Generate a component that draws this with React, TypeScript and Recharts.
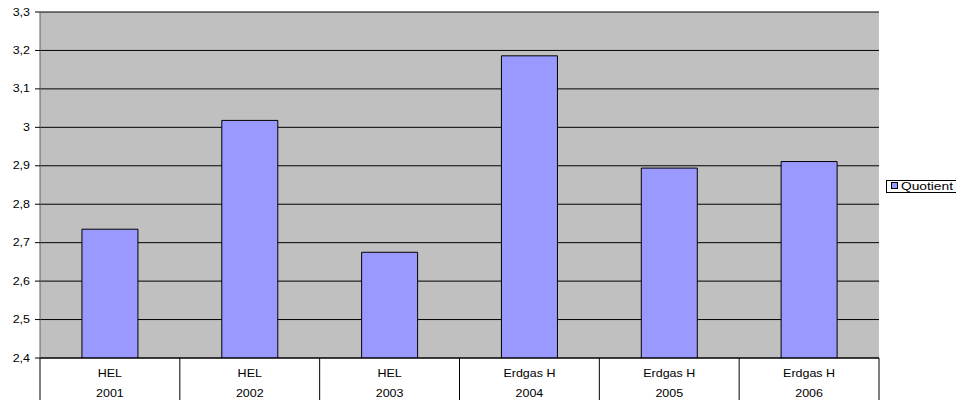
import React from "react";
import { BarChart, Bar, XAxis, YAxis, CartesianGrid, Legend } from "recharts";

const fuels = ["HEL", "HEL", "HEL", "Erdgas H", "Erdgas H", "Erdgas H"];
const years = ["2001", "2002", "2003", "2004", "2005", "2006"];
const quotient = [2.735, 3.018, 2.675, 3.186, 2.894, 2.911];
const yTicks = [2.4, 2.5, 2.6, 2.7, 2.8, 2.9, 3.0, 3.1, 3.2, 3.3];

const data = years.map((y, i) => ({ key: i, fuel: fuels[i], year: y, Quotient: quotient[i] }));

const FONT = "'Liberation Sans', Arial, sans-serif";
const SX = 1.25;

const fmtY = (v: number) => {
  const r = Math.round(v * 10) / 10;
  return (Number.isInteger(r) ? String(r) : r.toFixed(1)).replace(".", ",");
};

const StretchText = ({ x, y, anchor, children }: any) => (
  <text
    transform={`translate(${x},${y}) scale(${SX},1)`}
    x={0}
    y={0}
    textAnchor={anchor}
    fontFamily={FONT}
    fontSize={10}
    fill="#000"
  >
    {children}
  </text>
);

const CatTick = (props: any) => {
  const { x, y, payload } = props;
  const i = payload.value as number;
  const half = payload.offset || 70;
  return (
    <g>
      {i === 0 && <line x1={x - half} y1={y} x2={x - half} y2={y + 42} stroke="#000" strokeWidth={1} />}
      <line x1={x + half} y1={y} x2={x + half} y2={y + 42} stroke="#000" strokeWidth={1} />
      <StretchText x={x} y={y + 19} anchor="middle">
        {data[i].fuel}
      </StretchText>
      <StretchText x={x} y={y + 39} anchor="middle">
        {data[i].year}
      </StretchText>
    </g>
  );
};

const ValTick = (props: any) => {
  const { x, y, payload } = props;
  return (
    <StretchText x={x} y={y + 3.5} anchor="end">
      {fmtY(payload.value)}
    </StretchText>
  );
};

const LegendBox = () => (
  <div
    style={{
      border: "1px solid #000",
      background: "#fff",
      height: 11,
      width: 80,
      position: "relative",
      fontFamily: FONT,
      fontSize: 11,
      color: "#000",
    }}
  >
    <span
      style={{
        position: "absolute",
        left: 4,
        top: 1,
        width: 5,
        height: 5,
        background: "#9999FF",
        border: "1px solid #000",
      }}
    />
    <span
      style={{
        position: "absolute",
        left: 14,
        top: -2,
        lineHeight: "14px",
        whiteSpace: "nowrap",
        transform: `scaleX(${SX})`,
        transformOrigin: "left center",
      }}
    >
      Quotient
    </span>
  </div>
);

export default function App() {
  return (
    <div style={{ position: "absolute", left: 0, top: 0, width: 956, height: 400, background: "#fff", overflow: "hidden" }}>
      <BarChart
        width={956}
        height={400}
        data={data}
        margin={{ top: 12, right: 77, left: 0, bottom: 0 }}
        barCategoryGap="30%"
      >
        <CartesianGrid vertical={false} stroke="#000" fill="#C0C0C0" fillOpacity={1} />
        <XAxis
          dataKey="key"
          type="category"
          height={42}
          tickSize={0}
          tickMargin={0}
          tickLine={false}
          axisLine={{ stroke: "#000" }}
          tick={<CatTick />}
          interval={0}
        />
        <XAxis xAxisId="top" orientation="top" dataKey="key" height={0} tick={false} tickLine={false} axisLine={{ stroke: "#808080" }} />
        <YAxis
          type="number"
          domain={[2.4, 3.3]}
          ticks={yTicks}
          interval={0}
          width={40}
          tickSize={5}
          tickMargin={5}
          tick={<ValTick />}
          tickLine={{ stroke: "#000" }}
          axisLine={{ stroke: "#606060" }}
          allowDataOverflow
        />
        <YAxis yAxisId="right" orientation="right" domain={[2.4, 3.3]} width={0} tick={false} tickLine={false} axisLine={{ stroke: "#808080" }} />
        <Legend
          layout="horizontal"
          align="center"
          verticalAlign="middle"
          content={<LegendBox />}
          wrapperStyle={{ position: "absolute", left: 886, top: 180, width: 82 }}
        />
        <Bar dataKey="Quotient" fill="#9999FF" stroke="#000" strokeWidth={1} isAnimationActive={false} />
      </BarChart>
    </div>
  );
}
